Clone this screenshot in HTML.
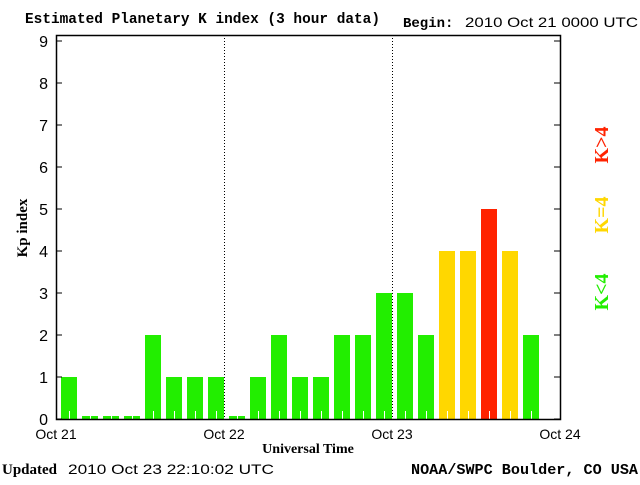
<!DOCTYPE html>
<html><head><meta charset="utf-8"><style>
body{margin:0;background:#fff;}
</style></head><body>
<svg id="chart" width="640" height="480" viewBox="0 0 640 480" xmlns="http://www.w3.org/2000/svg" font-family="Liberation Serif, serif">
<rect width="640" height="480" fill="#fff"/>
<text x="25" y="23" font-size="15" font-weight="bold" font-family="Liberation Mono, monospace" textLength="355" lengthAdjust="spacingAndGlyphs">Estimated Planetary K index (3 hour data)</text>
<text x="403" y="27" font-size="14" font-weight="bold" font-family="Liberation Mono, monospace">Begin:</text>
<text x="465" y="27" font-size="14" font-family="Liberation Sans, sans-serif" textLength="173" lengthAdjust="spacingAndGlyphs">2010 Oct 21 0000 UTC</text>
<g id="plot"></g>
<text transform="translate(27,228) rotate(-90)" text-anchor="middle" font-size="15" font-weight="bold">Kp index</text>
<text x="308" y="453" text-anchor="middle" font-size="14" font-weight="bold">Universal Time</text>
<text x="2" y="474" font-size="15" font-weight="bold">Updated</text>
<text x="68" y="474" font-size="14" font-family="Liberation Sans, sans-serif" textLength="206" lengthAdjust="spacingAndGlyphs">2010 Oct 23 22:10:02 UTC</text>
<text x="638" y="474" text-anchor="end" font-size="15" font-weight="bold" font-family="Liberation Mono, monospace" textLength="227" lengthAdjust="spacingAndGlyphs">NOAA/SWPC Boulder, CO USA</text>
<text transform="translate(608,145) rotate(-90)" text-anchor="middle" font-size="20" font-weight="bold" fill="#ff2200">K&gt;4</text>
<text transform="translate(608,215) rotate(-90)" text-anchor="middle" font-size="20" font-weight="bold" fill="#ffd700">K=4</text>
<text transform="translate(608,292) rotate(-90)" text-anchor="middle" font-size="20" font-weight="bold" fill="#22ee00">K&lt;4</text>
</svg>
<script>
const kpValues=[1,0,0,0,2,1,1,1,0,1,2,1,1,2,2,3,3,2,4,4,5,4,2];
const yTicks=[0,1,2,3,4,5,6,7,8,9];
const dayLabels=["Oct 21","Oct 22","Oct 23","Oct 24"];
const NS="http://www.w3.org/2000/svg";
const L=56,R=560,T=35,B=419,U=42,DW=168,SLOT=21;
const g=document.getElementById('plot');
function y(v){return B-v*U;}
function xDay(d){return L+d*DW;}
function xBar(i){return L+5+i*SLOT;}
function mk(t,a){const e=document.createElementNS(NS,t);for(const k in a)e.setAttribute(k,a[k]);g.appendChild(e);return e;}
function col(v){return v>4?'#ff2200':(v===4?'#ffd700':'#22ee00');}
kpValues.forEach((v,i)=>{
 const top=v===0?B-3:y(v);
 const r=mk('rect',{x:xBar(i),y:top,width:16,height:B-top,fill:col(v)});
 
 
 const t=mk('line',{x1:xBar(i)+8.5,x2:xBar(i)+8.5,y1:B-8,y2:B,stroke:'#fff'});
 
 
});
[1,2].forEach(d=>{
 const l=mk('line',{x1:xDay(d)+0.5,x2:xDay(d)+0.5,y1:T,y2:B,stroke:'#000','stroke-dasharray':'1,2'});
 
 
});
const f=mk('rect',{x:L+0.5,y:T+0.5,width:R-L,height:B-T,fill:'none',stroke:'#000','stroke-width':1.5});


yTicks.forEach(v=>{
 mk('line',{x1:L,x2:L+6,y1:y(v),y2:y(v),stroke:'#000'});
 mk('line',{x1:R-6,x2:R,y1:y(v),y2:y(v),stroke:'#000'});
 const t=mk('text',{x:L-8,y:y(v)+6,'text-anchor':'end','font-size':16,'font-family':'Liberation Sans, sans-serif'});
 t.textContent=v;
 
 
});
dayLabels.forEach((d,i)=>{
 const t=mk('text',{x:xDay(i),y:439,'text-anchor':'middle','font-size':14,'font-family':'Liberation Sans, sans-serif'});
 t.textContent=d;
 
 
});
</script>
</body></html>
